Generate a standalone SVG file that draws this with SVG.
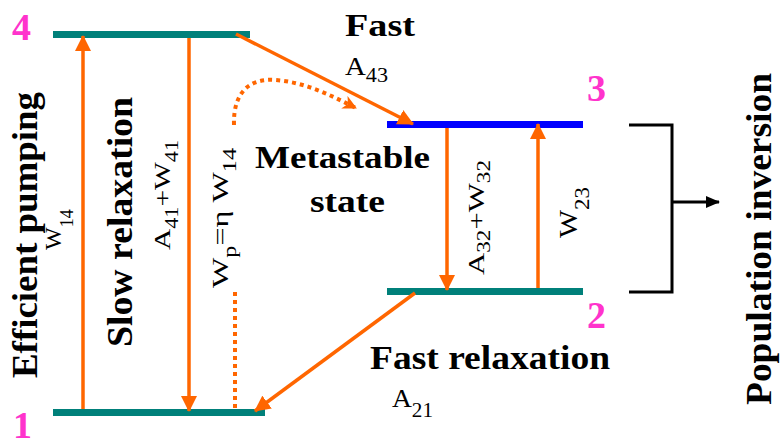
<svg xmlns="http://www.w3.org/2000/svg" width="780" height="445" viewBox="0 0 780 445">
<style>
  .big{font-family:"Liberation Serif","Times New Roman",serif;font-weight:bold;fill:#000}
  .num{font-family:"Liberation Serif","Times New Roman",serif;font-weight:bold;fill:#FF33CC;font-size:38px}
  .sym{font-family:"Liberation Serif","Times New Roman",serif;fill:#000}
  .arr{stroke:#FF6600;stroke-width:3.5;fill:none}
  .dot{stroke:#FF6600;stroke-width:4;fill:none;stroke-dasharray:4 4}
</style>
<defs>
  <marker id="ah" markerUnits="userSpaceOnUse" markerWidth="16" markerHeight="16" viewBox="0 0 16 16" refX="15" refY="8" orient="auto">
    <path d="M0,0 L16,8 L0,16 Z" fill="#FF6600"/>
  </marker>
  <marker id="ahs" markerUnits="userSpaceOnUse" markerWidth="14" markerHeight="14" viewBox="0 0 14 14" refX="13" refY="7" orient="auto">
    <path d="M0,0 L14,7 L0,14 L4,7 Z" fill="#FF6600"/>
  </marker>
  <marker id="ahk" markerUnits="userSpaceOnUse" markerWidth="14" markerHeight="14" viewBox="0 0 14 14" refX="13" refY="7" orient="auto">
    <path d="M0,1 L14,7 L0,13 Z" fill="#000"/>
  </marker>
</defs>

<g id="level4"><rect x="53" y="31" width="197" height="7" fill="#00807A"/><text class="num" x="12" y="40">4</text></g>
<g id="level1"><rect x="53" y="409" width="212" height="7" fill="#00807A"/><text class="num" x="13" y="438">1</text></g>
<g id="level3"><rect x="387" y="121" width="196" height="7" fill="#0000FF"/><text class="num" x="587" y="101">3</text></g>
<g id="level2"><rect x="387" y="288" width="196" height="7" fill="#00807A"/><text class="num" x="587" y="328">2</text></g>

<g id="connectors">
  <line class="arr" x1="83" y1="409" x2="83" y2="36" marker-end="url(#ah)"/>
  <line class="arr" x1="189" y1="38" x2="189" y2="411" marker-end="url(#ah)"/>
  <line class="arr" x1="236" y1="34" x2="413" y2="124" marker-end="url(#ah)"/>
  <line class="arr" x1="447" y1="128" x2="447" y2="290" marker-end="url(#ah)"/>
  <line class="arr" x1="538" y1="288" x2="538" y2="124" marker-end="url(#ah)"/>
  <line class="arr" x1="415" y1="293" x2="255" y2="411" marker-end="url(#ah)"/>
  <line class="dot" x1="235" y1="292" x2="235" y2="410"/>
  <path class="dot" d="M234,125 C233,92 250,78 275,80 C305,82 330,95 356,108" marker-end="url(#ahs)"/>
  <polyline points="629,125 672,125 672,292 629,292" fill="none" stroke="#000" stroke-width="3"/>
  <line x1="672" y1="202" x2="719" y2="202" stroke="#000" stroke-width="3" marker-end="url(#ahk)"/>
</g>

<g id="labels">
  <text class="big" font-size="36" transform="translate(37,378) rotate(-90)" textLength="286" lengthAdjust="spacingAndGlyphs">Efficient pumping</text>
  <text class="sym" font-size="24" transform="translate(61,250) rotate(-90)">W<tspan font-size="18" dy="12">14</tspan></text>
  <text class="big" font-size="36" transform="translate(132,347) rotate(-90)" textLength="250" lengthAdjust="spacingAndGlyphs">Slow relaxation</text>
  <text class="sym" font-size="24" transform="translate(170,250) rotate(-90)" textLength="110" lengthAdjust="spacingAndGlyphs">A<tspan font-size="18" dy="8">41</tspan><tspan dy="-8">+W</tspan><tspan font-size="18" dy="8">41</tspan></text>
  <text class="sym" font-size="24" transform="translate(228,288) rotate(-90)" textLength="140" lengthAdjust="spacingAndGlyphs">W<tspan font-size="18" dy="8">p</tspan><tspan dy="-8">=η W</tspan><tspan font-size="18" dy="8">14</tspan></text>
  <text class="big" font-size="32" x="345" y="36" textLength="70" lengthAdjust="spacingAndGlyphs">Fast</text>
  <text class="sym" font-size="26" x="345" y="75" textLength="43" lengthAdjust="spacingAndGlyphs">A<tspan font-size="20" dy="7">43</tspan></text>
  <text class="big" font-size="32" x="255" y="168" textLength="175" lengthAdjust="spacingAndGlyphs">Metastable</text>
  <text class="big" font-size="32" x="310" y="212" textLength="75" lengthAdjust="spacingAndGlyphs">state</text>
  <text class="sym" font-size="24" transform="translate(484,275) rotate(-90)" textLength="115" lengthAdjust="spacingAndGlyphs">A<tspan font-size="18" dy="6">32</tspan><tspan dy="-6">+W</tspan><tspan font-size="18" dy="6">32</tspan></text>
  <text class="sym" font-size="26" transform="translate(577,238) rotate(-90)" textLength="51" lengthAdjust="spacingAndGlyphs">W<tspan font-size="20" dy="12">23</tspan></text>
  <text class="big" font-size="34" x="370" y="369" textLength="240" lengthAdjust="spacingAndGlyphs">Fast relaxation</text>
  <text class="sym" font-size="26" x="392" y="407" textLength="41" lengthAdjust="spacingAndGlyphs">A<tspan font-size="20" dy="10">21</tspan></text>
  <text class="big" font-size="36" transform="translate(771,405) rotate(-90)" textLength="332" lengthAdjust="spacingAndGlyphs">Population inversion</text>
</g>
</svg>
